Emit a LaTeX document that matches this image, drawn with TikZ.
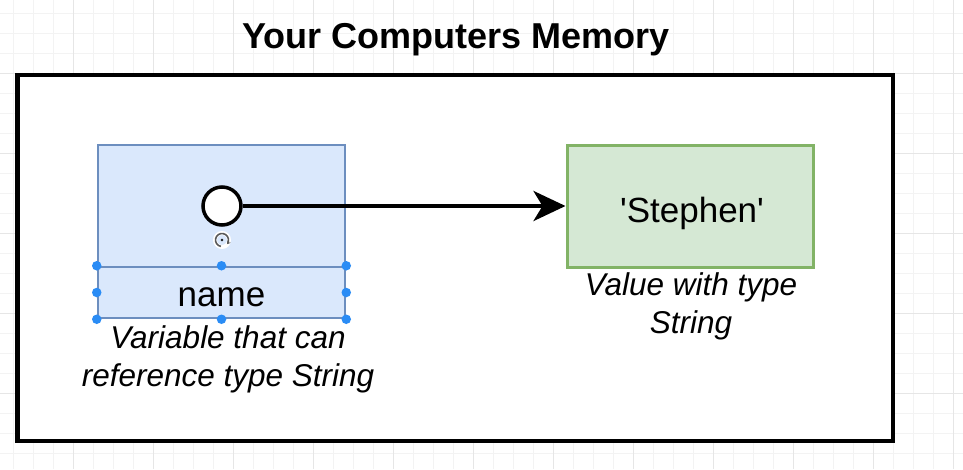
\documentclass[tikz,border=0pt]{standalone}
\usepackage{fontspec}
\setmainfont{Liberation Sans}[Ligatures=TeXOff]
\usetikzlibrary{arrows.meta}
\definecolor{varfill}{HTML}{DAE8FC}
\definecolor{varline}{HTML}{6C8EBF}
\definecolor{valfill}{HTML}{D5E8D4}
\definecolor{valline}{HTML}{82B366}
\definecolor{handleblue}{HTML}{2A8CF5}
\definecolor{gridminor}{HTML}{F3F3F3}
\definecolor{gridmajor}{HTML}{E6E6E6}
\tikzset{
  membox/.style={draw=black, fill=white, line width=4.5, inner sep=0},
  varbox/.style={draw=varline, fill=varfill, line width=2.5, inner sep=0},
  valbox/.style={draw=valline, fill=valfill, line width=3, inner sep=0},
  refdot/.style={circle, draw=black, fill=white, line width=3.5, minimum size=38, inner sep=0},
  handle/.style={circle, fill=handleblue, minimum size=9.5, inner sep=0},
  plain/.style={inner sep=0, font=\fontsize{35}{40}\selectfont},
  note/.style={inner sep=0, align=center, font=\fontsize{31.5}{37.5}\selectfont\itshape},
  arrowline/.style={line width=4, -{Stealth[length=32, width=30, inset=9]}}
}
\begin{document}
\begin{tikzpicture}[x=1pt, y=-1pt]
\useasboundingbox (0,0) rectangle (963,469);
% background grid
\foreach \gx in {13,33,...,953} \draw[gridminor, line width=1] (\gx,0) -- (\gx,469);
\foreach \gy in {13,33,...,453} \draw[gridminor, line width=1] (0,\gy) -- (963,\gy);
\foreach \gx in {73,153,...,953} \draw[gridmajor, line width=1] (\gx,0) -- (\gx,469);
\foreach \gy in {73,153,...,393} \draw[gridmajor, line width=1] (0,\gy) -- (963,\gy);

\node [inner sep=0, font=\fontsize{36}{40}\selectfont\bfseries, anchor=base] (title) at (456,48) {Your Computers Memory};
\node [membox, minimum width=875.5, minimum height=366] (mem) at (455.25,258) {};

% variable
\node [varbox, minimum width=247, minimum height=173] (var) at (221.5,231.5) {};
\node [varbox, minimum width=247, minimum height=51] (nm) at (221.5,292.5) {};
\node [plain, anchor=base] (nmtext) at (221.5,306.7) {name};
\node [refdot] (ref) at (222,206) {};
\draw[white, line width=4] (222,240) circle [radius=7];
\draw[black!65, line width=1.6, -{Stealth[length=3.5, width=4]}] (222,240) ++(100:6.5) arc [start angle=100, end angle=400, radius=6.5];
\draw[fill=black!65] (222,240) circle [radius=1.2];
\node [handle] (h1) at (nm.north west) {};
\node [handle] (h2) at (nm.north) {};
\node [handle] (h3) at (nm.north east) {};
\node [handle] (h4) at (nm.west) {};
\node [handle] (h5) at (nm.east) {};
\node [handle] (h6) at (nm.south west) {};
\node [handle] (h7) at (nm.south) {};
\node [handle] (h8) at (nm.south east) {};
\node [note, anchor=base] (varnote) at (228,386) {Variable that can\\reference type String};

% value
\node [valbox, minimum width=246, minimum height=122] (val) at (690,206) {};
\node [plain, anchor=base] (valtext) at (692,222) {'Stephen'};
\node [note, anchor=base] (valnote) at (691,333) {Value with type\\String};

\draw[arrowline] (ref) -- (val);
\end{tikzpicture}
\end{document}
